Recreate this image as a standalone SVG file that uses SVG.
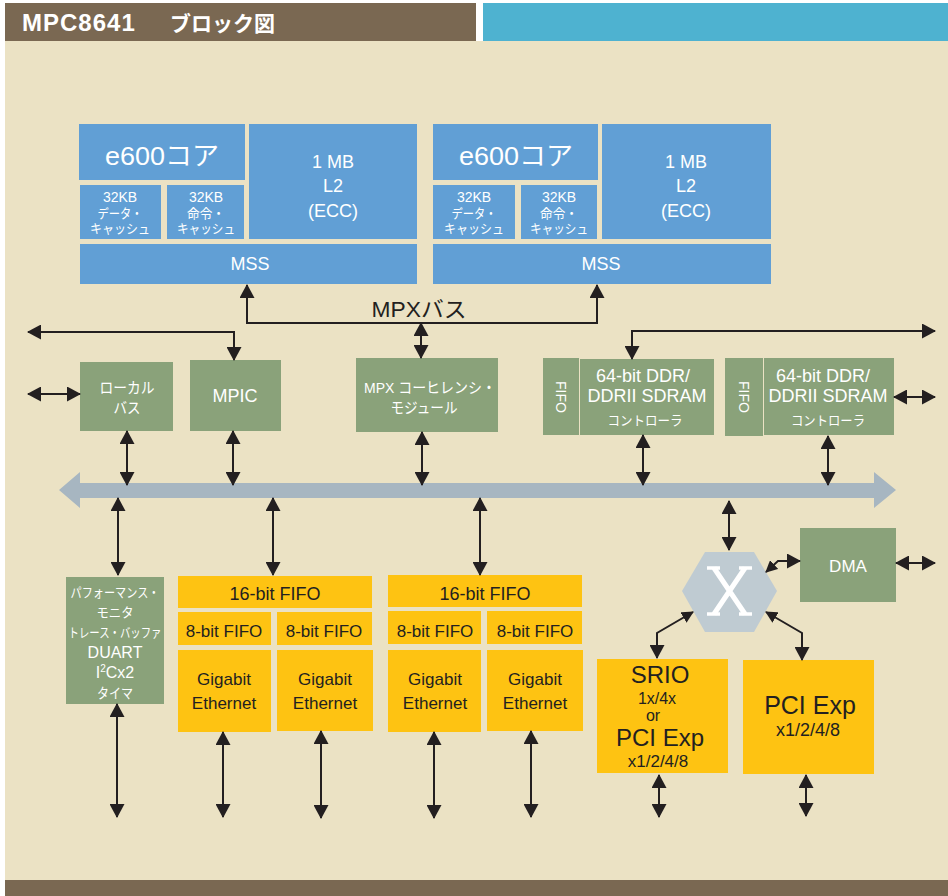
<svg xmlns="http://www.w3.org/2000/svg" width="948" height="896" viewBox="0 0 948 896">
<defs>
<style>
text{font-family:"Liberation Sans","Noto Sans CJK JP",sans-serif;text-anchor:middle}
.blue{fill:#619fd5}
.green{fill:#8aa27a}
.yel{fill:#fec312}
.w{fill:#ffffff}
.k{fill:#231f20}
.c{fill:none;stroke:#231f20;stroke-width:2}
</style>
<marker id="ah" viewBox="0 0 14 15" refX="13" refY="7.5" markerWidth="14" markerHeight="15" markerUnits="userSpaceOnUse" orient="auto-start-reverse"><path d="M0,0 L14,7.5 L0,15 z" fill="#231f20"/></marker>
<marker id="as" viewBox="0 0 12 12" refX="11" refY="6" markerWidth="12" markerHeight="12" markerUnits="userSpaceOnUse" orient="auto-start-reverse"><path d="M0,0 L12,6 L0,12 z" fill="#231f20"/></marker>
</defs>
<rect x="0" y="0" width="948" height="896" fill="#ffffff"/>
<rect x="5" y="41" width="943" height="839" fill="#ebe2c4"/>
<rect x="5" y="3" width="471" height="38" fill="#7a6852"/>
<rect x="483" y="3" width="465" height="38" fill="#4eb2d0"/>
<rect x="5" y="880" width="943" height="16" fill="#7a6852"/>
<g id="title">
<text x="22" y="31" style="text-anchor:start;font-weight:bold;font-size:24px;letter-spacing:1px" class="w">MPC8641</text>
<text x="170" y="31" style="text-anchor:start;font-weight:bold;font-size:21px" class="w">ブロック図</text>
</g>

<g id="bus">
<polygon points="59,490 80,472 80,483 874,483 874,472 896,490 874,508 874,498 80,498 80,508" fill="#a7b6c1"/>
</g>

<g id="core1">
<rect x="79" y="124" width="166" height="56" class="blue"/>
<text x="162" y="165" style="font-size:26px" class="w" textLength="114" lengthAdjust="spacingAndGlyphs">e600コア</text>
<rect x="249" y="124" width="168" height="115" class="blue"/>
<text x="333" y="168" style="font-size:18px" class="w">1 MB</text>
<text x="333" y="192" style="font-size:18px" class="w">L2</text>
<text x="333" y="217" style="font-size:18px" class="w">(ECC)</text>
<rect x="80" y="185" width="81" height="54" class="blue"/>
<text x="120" y="202" style="font-size:14px" class="w">32KB</text>
<text x="120" y="218" style="font-size:13px" class="w" textLength="45" lengthAdjust="spacingAndGlyphs">データ・</text>
<text x="120" y="233" style="font-size:13px" class="w" textLength="60" lengthAdjust="spacingAndGlyphs">キャッシュ</text>
<rect x="167" y="185" width="77" height="54" class="blue"/>
<text x="206" y="202" style="font-size:14px" class="w">32KB</text>
<text x="206" y="218" style="font-size:13px" class="w" textLength="38" lengthAdjust="spacingAndGlyphs">命令・</text>
<text x="206" y="233" style="font-size:13px" class="w" textLength="58" lengthAdjust="spacingAndGlyphs">キャッシュ</text>
<rect x="80" y="244" width="337" height="40" class="blue"/>
<text x="250" y="270" style="font-size:18px" class="w">MSS</text>
</g>

<g id="core2">
<rect x="433" y="124" width="165" height="56" class="blue"/>
<text x="516" y="165" style="font-size:26px" class="w" textLength="114" lengthAdjust="spacingAndGlyphs">e600コア</text>
<rect x="602" y="124" width="169" height="115" class="blue"/>
<text x="686" y="168" style="font-size:18px" class="w">1 MB</text>
<text x="686" y="192" style="font-size:18px" class="w">L2</text>
<text x="686" y="217" style="font-size:18px" class="w">(ECC)</text>
<rect x="433" y="185" width="82" height="54" class="blue"/>
<text x="474" y="202" style="font-size:14px" class="w">32KB</text>
<text x="474" y="218" style="font-size:13px" class="w" textLength="45" lengthAdjust="spacingAndGlyphs">データ・</text>
<text x="474" y="233" style="font-size:13px" class="w" textLength="60" lengthAdjust="spacingAndGlyphs">キャッシュ</text>
<rect x="521" y="185" width="76" height="54" class="blue"/>
<text x="559" y="202" style="font-size:14px" class="w">32KB</text>
<text x="559" y="218" style="font-size:13px" class="w" textLength="38" lengthAdjust="spacingAndGlyphs">命令・</text>
<text x="559" y="233" style="font-size:13px" class="w" textLength="58" lengthAdjust="spacingAndGlyphs">キャッシュ</text>
<rect x="433" y="244" width="338" height="40" class="blue"/>
<text x="601" y="270" style="font-size:18px" class="w">MSS</text>
</g>

<g id="mpxbus-label">
<text x="419" y="317" style="font-size:22px" class="k" textLength="95" lengthAdjust="spacingAndGlyphs">MPXバス</text>
</g>

<g id="localbus">
<rect x="80" y="362" width="93" height="69" class="green"/>
<text x="127" y="393" style="font-size:15px" class="w" textLength="55" lengthAdjust="spacingAndGlyphs">ローカル</text>
<text x="127" y="413" style="font-size:15px" class="w" textLength="27" lengthAdjust="spacingAndGlyphs">バス</text>
</g>
<g id="mpic">
<rect x="190" y="360" width="91" height="71" class="green"/>
<text x="235" y="402" style="font-size:18px" class="w">MPIC</text>
</g>
<g id="coherency">
<rect x="356" y="358" width="142" height="74" class="green"/>
<text x="430" y="393" style="font-size:15px" class="w" textLength="132" lengthAdjust="spacingAndGlyphs">MPX コーヒレンシ・</text>
<text x="424" y="413" style="font-size:15px" class="w" textLength="67" lengthAdjust="spacingAndGlyphs">モジュール</text>
</g>
<g id="ddr1">
<rect x="543" y="358" width="36" height="77" class="green"/>
<text transform="translate(556,397) rotate(90)" style="font-size:14px" class="w">FIFO</text>
<rect x="580" y="359" width="134" height="76" class="green"/>
<text x="643" y="382" style="font-size:18px" class="w">64-bit DDR/</text>
<text x="647" y="402" style="font-size:18px" class="w">DDRII SDRAM</text>
<text x="645" y="425" style="font-size:13px" class="w" textLength="75" lengthAdjust="spacingAndGlyphs">コントローラ</text>
</g>
<g id="ddr2">
<rect x="725" y="358" width="38" height="78" class="green"/>
<text transform="translate(739,397) rotate(90)" style="font-size:14px" class="w">FIFO</text>
<rect x="764" y="358" width="130" height="77" class="green"/>
<text x="823" y="382" style="font-size:18px" class="w">64-bit DDR/</text>
<text x="828" y="402" style="font-size:18px" class="w">DDRII SDRAM</text>
<text x="828" y="425" style="font-size:13px" class="w" textLength="74" lengthAdjust="spacingAndGlyphs">コントローラ</text>
</g>

<g id="perfmon">
<rect x="66" y="577" width="98" height="127" class="green"/>
<text x="115" y="597" style="font-size:13px" class="w" textLength="89" lengthAdjust="spacingAndGlyphs">パフォーマンス・</text>
<text x="115" y="617" style="font-size:13px" class="w" textLength="37" lengthAdjust="spacingAndGlyphs">モニタ</text>
<text x="115" y="637" style="font-size:13px" class="w" textLength="93" lengthAdjust="spacingAndGlyphs">トレース・バッファ</text>
<text x="115" y="658" style="font-size:16px" class="w">DUART</text>
<text x="115" y="678" style="font-size:16px" class="w">I<tspan style="font-size:10px" dy="-6">2</tspan><tspan dy="6">Cx2</tspan></text>
<text x="115" y="698" style="font-size:14px" class="w" textLength="36" lengthAdjust="spacingAndGlyphs">タイマ</text>
</g>

<g id="eth-group1">
<rect x="178" y="576" width="194" height="32" class="yel"/>
<text x="275" y="600" style="font-size:18px" class="k">16-bit FIFO</text>
<rect x="178" y="612" width="93" height="33" class="yel"/>
<text x="224" y="637" style="font-size:17px" class="k">8-bit FIFO</text>
<rect x="277" y="612" width="95" height="33" class="yel"/>
<text x="324" y="637" style="font-size:17px" class="k">8-bit FIFO</text>
<rect x="178" y="650" width="93" height="82" class="yel"/>
<text x="224" y="685" style="font-size:17px" class="k">Gigabit</text>
<text x="224" y="709" style="font-size:17px" class="k">Ethernet</text>
<rect x="277" y="650" width="96" height="81" class="yel"/>
<text x="325" y="685" style="font-size:17px" class="k">Gigabit</text>
<text x="325" y="709" style="font-size:17px" class="k">Ethernet</text>
</g>
<g id="eth-group2">
<rect x="388" y="575" width="194" height="32" class="yel"/>
<text x="485" y="600" style="font-size:18px" class="k">16-bit FIFO</text>
<rect x="388" y="611" width="93" height="33" class="yel"/>
<text x="435" y="637" style="font-size:17px" class="k">8-bit FIFO</text>
<rect x="487" y="611" width="95" height="33" class="yel"/>
<text x="535" y="637" style="font-size:17px" class="k">8-bit FIFO</text>
<rect x="388" y="650" width="93" height="82" class="yel"/>
<text x="435" y="685" style="font-size:17px" class="k">Gigabit</text>
<text x="435" y="709" style="font-size:17px" class="k">Ethernet</text>
<rect x="487" y="650" width="96" height="81" class="yel"/>
<text x="535" y="685" style="font-size:17px" class="k">Gigabit</text>
<text x="535" y="709" style="font-size:17px" class="k">Ethernet</text>
</g>

<g id="crossbar">
<polygon points="682,591 705,552 754,552 777,591 754,632 705,632" fill="#bfcbd2"/>
<path d="M714,568 L745,614 M745,568 L714,614" stroke="#ffffff" stroke-width="5" fill="none"/>
<path d="M707,568 H720 M739,568 H752 M707,614 H720 M739,614 H752" stroke="#ffffff" stroke-width="3.5" fill="none"/>
</g>
<g id="dma">
<rect x="800" y="528" width="96" height="74" class="green"/>
<text x="848" y="572" style="font-size:17px" class="w">DMA</text>
</g>
<g id="srio">
<rect x="597" y="659" width="131" height="114" class="yel"/>
<text x="660" y="683" style="font-size:24px" class="k">SRIO</text>
<text x="657" y="704" style="font-size:16px" class="k">1x/4x</text>
<text x="653" y="721" style="font-size:16px" class="k">or</text>
<text x="660" y="746" style="font-size:24px" class="k">PCI Exp</text>
<text x="658" y="767" style="font-size:17px" class="k">x1/2/4/8</text>
</g>
<g id="pciexp">
<rect x="743" y="660" width="131" height="114" class="yel"/>
<text x="810" y="714" style="font-size:25px" class="k">PCI Exp</text>
<text x="808" y="736" style="font-size:18px" class="k">x1/2/4/8</text>
</g>

<g id="connectors">
<path class="c" d="M247,285 V323 H597 V285" marker-start="url(#ah)" marker-end="url(#ah)"/>
<path class="c" d="M421,323 V358" marker-start="url(#ah)" marker-end="url(#ah)"/>
<path class="c" d="M28,332 H234 V360" marker-start="url(#ah)" marker-end="url(#ah)"/>
<path class="c" d="M935,331 H632 V359" marker-start="url(#ah)" marker-end="url(#ah)"/>
<path class="c" d="M28,394 H80" marker-start="url(#ah)" marker-end="url(#ah)"/>
<path class="c" d="M894,397 H935" marker-start="url(#ah)" marker-end="url(#ah)"/>
<path class="c" d="M127,431 V485" marker-start="url(#ah)" marker-end="url(#ah)"/>
<path class="c" d="M233,431 V485" marker-start="url(#ah)" marker-end="url(#ah)"/>
<path class="c" d="M422,432 V485" marker-start="url(#ah)" marker-end="url(#ah)"/>
<path class="c" d="M643,435 V485" marker-start="url(#ah)" marker-end="url(#ah)"/>
<path class="c" d="M828,436 V485" marker-start="url(#ah)" marker-end="url(#ah)"/>
<path class="c" d="M118,498 V575" marker-start="url(#ah)" marker-end="url(#ah)"/>
<path class="c" d="M273,498 V575" marker-start="url(#ah)" marker-end="url(#ah)"/>
<path class="c" d="M480,498 V575" marker-start="url(#ah)" marker-end="url(#ah)"/>
<path class="c" d="M729,501 V550" marker-start="url(#ah)" marker-end="url(#ah)"/>
<path class="c" d="M766,572 L778,561 H800" marker-start="url(#as)" marker-end="url(#ah)"/>
<path class="c" d="M896,563 H935" marker-start="url(#ah)" marker-end="url(#ah)"/>
<path class="c" d="M693,612 L657,633 V658" marker-start="url(#as)" marker-end="url(#ah)"/>
<path class="c" d="M766,612 L802,633 V660" marker-start="url(#as)" marker-end="url(#ah)"/>
<path class="c" d="M117,704 V817" marker-start="url(#ah)" marker-end="url(#ah)"/>
<path class="c" d="M223,732 V817" marker-start="url(#ah)" marker-end="url(#ah)"/>
<path class="c" d="M321,731 V818" marker-start="url(#ah)" marker-end="url(#ah)"/>
<path class="c" d="M434,732 V818" marker-start="url(#ah)" marker-end="url(#ah)"/>
<path class="c" d="M531,731 V817" marker-start="url(#ah)" marker-end="url(#ah)"/>
<path class="c" d="M659,775 V817" marker-start="url(#ah)" marker-end="url(#ah)"/>
<path class="c" d="M806,775 V816" marker-start="url(#ah)" marker-end="url(#ah)"/>
</g>
</svg>
